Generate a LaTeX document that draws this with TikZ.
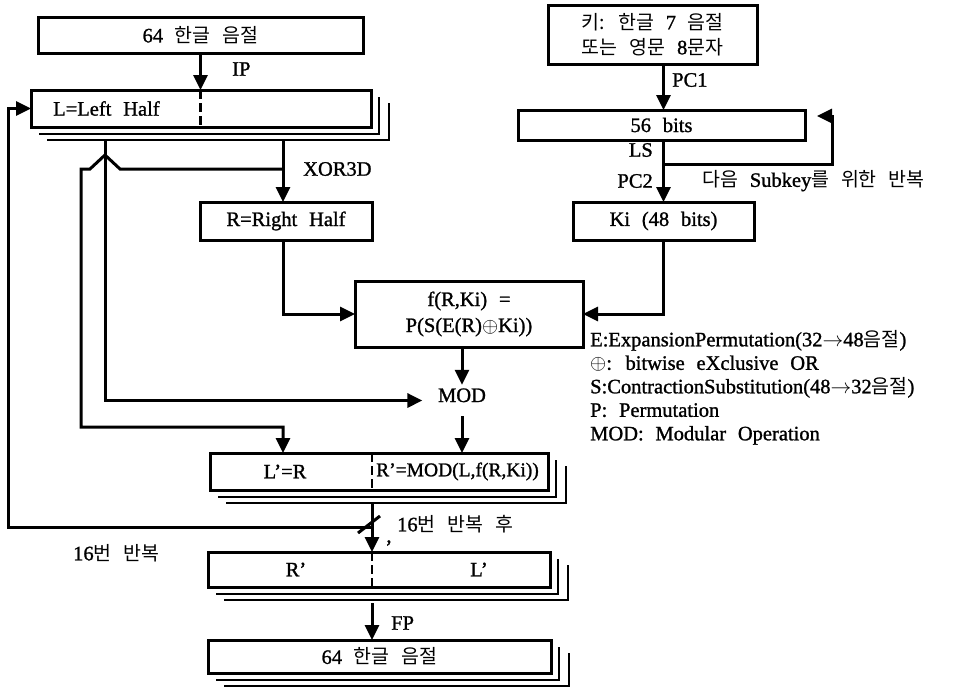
\documentclass[tikz,border=0pt]{standalone}
\usepackage{fontspec}
\setmainfont{Liberation Serif}[WordSpace=2.3,FakeBold=1.2]
\newfontfamily\krfont{Noto Sans CJK KR}[Scale=0.95]
\newcommand\hk[1]{{\krfont #1}}
\usetikzlibrary{arrows.meta,calc}
\tikzset{
  box/.style={draw, line width=3pt, outer sep=0pt, inner sep=0pt},
  conn/.style={line width=3pt},
  arr/.style={line width=3pt, -{Triangle[length=15pt,width=14pt]}},
  shadowline/.style={line width=1.8pt},
  divider/.style={line width=2.6pt, dash pattern=on 9pt off 4pt},
  lbl/.style={inner sep=0pt},
}
\newcommand\stackshadow[1]{%
  \draw[shadowline] ($(#1.north east)+(8,7)$) -- ($(#1.south east)+(8,7)$) -- ($(#1.south west)+(8,7)$);
  \draw[shadowline] ($(#1.north east)+(18,13)$) -- ($(#1.south east)+(18,13)$) -- ($(#1.south west)+(16,13)$);}
\begin{document}
\begin{tikzpicture}[x=1pt,y=-1pt,every node/.style={font=\fontsize{20.5}{26}\selectfont}]
\useasboundingbox (0,0) rectangle (961,689);

% ---- boxes ----
\node[box, minimum width=325pt, minimum height=36pt] (top) at (200.5,35) {64 \hk{한글} \hk{음절}};
\node[box, minimum width=340pt, minimum height=37pt] (L) at (201,108.5) {};
\node[lbl, anchor=west] (Ltext) at (53,108.5) {L=Left Half};
\stackshadow{L}

\node[box, minimum width=209pt, minimum height=59pt, align=center] (key) at (652.5,34.5)
  {\hk{키:} \hk{한글} 7 \hk{음절}\\[-1pt]\hk{또는} \hk{영문} 8\hk{문자}};
\node[box, minimum width=287pt, minimum height=30pt] (b56) at (661.5,125) {56 bits};
\node[box, minimum width=172pt, minimum height=38pt] (R) at (286,221) {R=Right Half};
\node[box, minimum width=181pt, minimum height=38pt] (Ki) at (663.5,221) {Ki (48 bits)};
\node[box, minimum width=228pt, minimum height=66pt, align=center] (f) at (469,314)
  {f(R,Ki) =\\[0pt]P(S(E(R)$\oplus$Ki))};
\node[inner xsep=15.5pt, inner ysep=4pt, text height=13pt, text depth=10pt] (MOD) at (462,400.5) {MOD};

\node[box, minimum width=338pt, minimum height=37pt] (LR) at (379,471.5) {};
\node[lbl] (LRl) at (285,471.5) {L’=R};
\node[lbl, anchor=west, font=\fontsize{19.5}{23}\selectfont] (LRr) at (376,471.5) {R’=MOD(L,f(R,Ki))};
\stackshadow{LR}

\node[box, minimum width=342pt, minimum height=35pt] (RL) at (379,569.5) {};
\node[lbl] (RLl) at (296,569.5) {R’};
\node[lbl] (RLr) at (479,569.5) {L’};
\stackshadow{RL}

\node[box, minimum width=343pt, minimum height=33pt] (bot) at (379.5,656.5) {64 \hk{한글} \hk{음절}};
\stackshadow{bot}

% ---- dividers ----
\draw[divider] (L.north -| top.south) -- (L.south -| top.south);
\coordinate (dx) at (372,0);
\draw[divider] (LR.north -| dx) -- (LR.south -| dx);
\draw[divider] (RL.north -| dx) -- (RL.south -| dx);

% ---- labels ----
\node[lbl, anchor=west] (IP) at (232,69) {IP};
\node[lbl, anchor=west] (PC1) at (672,80) {PC1};
\node[lbl, anchor=east] (LS) at (653,150) {LS};
\node[lbl, anchor=east] (PC2) at (653,181) {PC2};
\node[lbl, anchor=west] (sub) at (702,181) {\hk{다음} Subkey\hk{를} \hk{위한} \hk{반복}};
\node[lbl, anchor=west] (xor) at (303,169) {XOR3D};
\node[lbl, anchor=west] (FP) at (391,623) {FP};
\node[lbl, anchor=west] (after) at (397,524) {16\hk{번} \hk{반복} \hk{후}};
\node[lbl, anchor=west] (rep) at (73,553) {16\hk{번} \hk{반복}};
\node[lbl] (comma) at (389,543) {,};

\node[lbl, anchor=north west, align=left, font=\fontsize{20.5}{23.5}\selectfont] (legend) at (590,330)
  {E:ExpansionPermutation(32$\rightarrow$48\hk{음절})\\
   $\oplus$: bitwise eXclusive OR\\
   S:ContractionSubstitution(48$\rightarrow$32\hk{음절})\\
   P: Permutation\\
   MOD: Modular Operation};

% ---- connectors ----
\draw[arr] (top.south) -- (L.north -| top.south);
\draw[arr] (key.south -| Ki.south) -- (b56.north -| Ki.south);
\draw[arr] (b56.south -| Ki.south) -- (Ki.north);
\coordinate (ls) at (663.5,164);
\coordinate (lt) at (832,116);
\draw[arr, shorten >=12pt] (ls) -| (lt) -- (lt -| b56.east);

\coordinate (j1) at (105,140);
\coordinate (xtop) at (283,140);
\coordinate (xb) at (283,169);
\draw[arr] (j1) |- (MOD.west);
\draw[arr] (xtop) -- (R.north -| xtop);
\draw[arr] (xb) -- (120,169) -- (105,155) -- (90,169) -- (81,169) -- (81,427) -| (LR.north -| xb);

\draw[arr] (R.south -| xb) |- (f.west);
\draw[arr] (Ki.south) |- (f.east);
\draw[arr] (f.south -| MOD.north) -- (MOD.north);
\draw[arr] (MOD.south) -- (LR.north -| MOD.south);

\coordinate (v1) at (372,503);
\coordinate (fb) at (372,527);
\draw[arr] (v1) -- (RL.north -| v1);
\draw[arr] (fb) -| (8,108.5) -- (L.west);
\coordinate (s1) at (358,533);
\coordinate (s2) at (380,516);
\draw[conn] (s1) -- (s2);
\coordinate (v2) at (372,603);
\draw[arr] (v2) -- (bot.north -| v2);
\end{tikzpicture}
\end{document}
